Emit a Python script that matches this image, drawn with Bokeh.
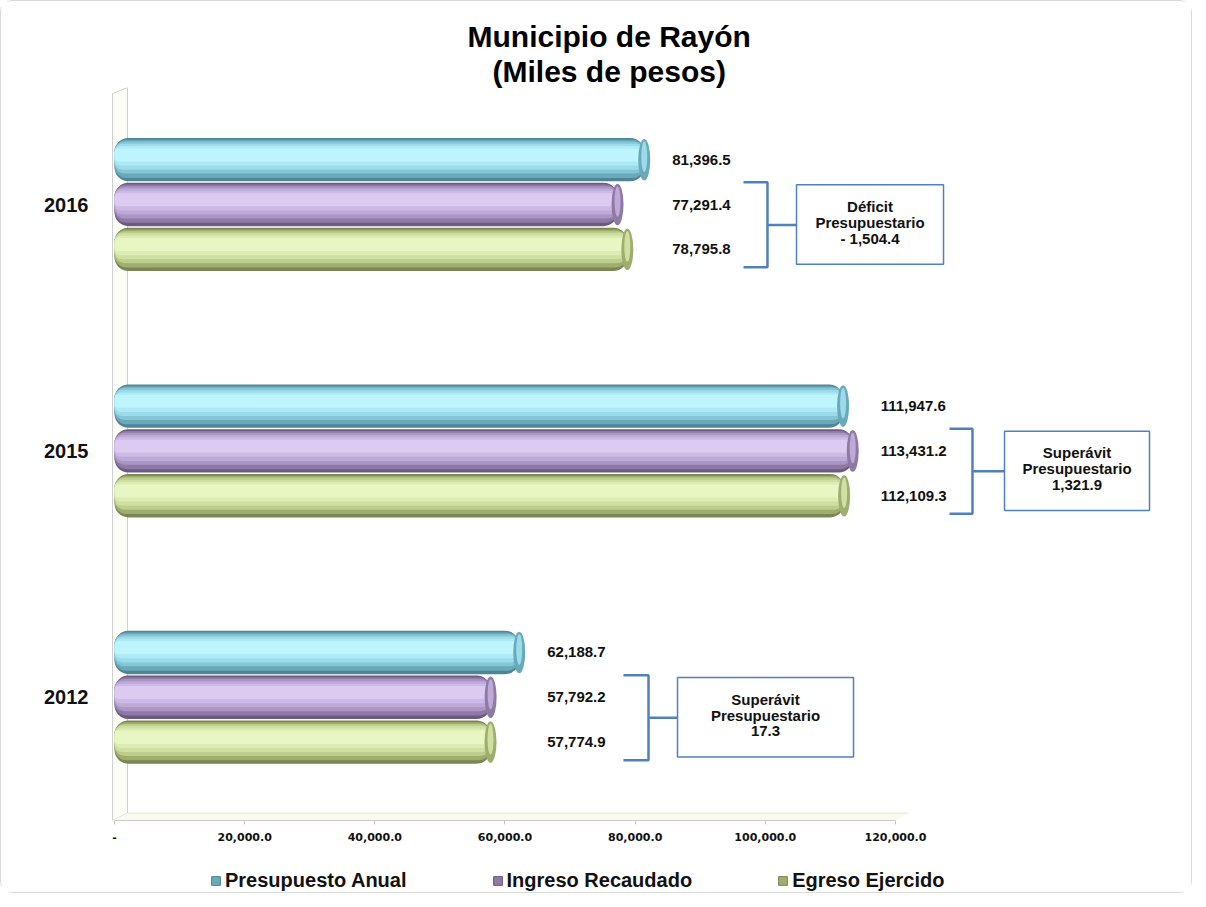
from bokeh.plotting import figure
from bokeh.layouts import column
from bokeh.models import (Range1d, FixedTicker, NumeralTickFormatter, Legend,
                          LegendItem, Title)
from bokeh.core.properties import value
from bokeh.embed import file_html
from bokeh.resources import INLINE

# ---------------- data ----------------
categories = ["2012", "2015", "2016"]
series_names = ["Presupuesto Anual", "Ingreso Recaudado", "Egreso Ejercido"]
presupuesto = [62188.7, 111947.6, 81396.5]
ingreso = [57792.2, 113431.2, 77291.4]
egreso = [57774.9, 112109.3, 78795.8]
balance_kind = ["Superávit", "Superávit", "Déficit"]
balance_value = ["17.3", "1,321.9", "- 1,504.4"]
x_ticks = [0, 20000, 40000, 60000, 80000, 100000, 120000]

# ---------------- layout / style (not data) ----------------
bracket_left = [78200, 128300, 96650]
bracket_mid = [82050, 131830, 100330]
box_left = [86510, 136750, 104790]
box_right = [113550, 159030, 127380]

series_values = [presupuesto, ingreso, egreso]
series_offsets = [0.182, 0.0, -0.182]
bar_h = 0.176
palettes = [
    ["#4f8595", "#6aa9ba", "#85c6d6", "#9bdbea", "#ade9f6", "#bdf4fd"],
    ["#6d5a80", "#8f7aa6", "#ab95c4", "#bea9d7", "#cdb9e5", "#dccaf0"],
    ["#7a8752", "#9eae6e", "#bccd8c", "#cfe0a2", "#dcecb2", "#e8f6c4"],
]
layers = [(1.0, 0.0), (0.88, 0.02), (0.74, 0.05), (0.6, 0.07), (0.45, 0.09), (0.3, 0.11)]

BLUE = "#4f81bd"
FONT = "Liberation Sans"

p = figure(width=1190, height=847, output_backend="svg", toolbar_location=None,
           x_range=Range1d(-1997, 164253), y_range=Range1d(0, 2.975),
           min_border_left=100, min_border_right=8, min_border_bottom=28,
           min_border_top=86, background_fill_color="white",
           border_fill_color="white", outline_line_color=None)
p.xgrid.visible = False
p.ygrid.visible = False

# 3D back wall and floor
p.patch(x=[-300, -300, 2000, 2000], y=[0.0, 2.95, 2.975, 0.03],
        fill_color="#fdfdf8", line_color="#cfcfcf", line_width=1)
p.patch(x=[-300, 2000, 122000, 120000], y=[0.0, 0.03, 0.03, 0.0],
        fill_color="#fbfaee", line_color=None)
p.line(x=[2000, 122000], y=[0.03, 0.03], line_color="#e6e6dc", line_width=1)

for s, vals in enumerate(series_values):
    ys = [i + 0.5 + series_offsets[s] for i in range(len(categories))]
    pal = palettes[s]
    for li, (frac, shift) in enumerate(layers):
        p.hbar(y=[y + shift * bar_h for y in ys], right=vals, left=0,
               height=bar_h * frac, fill_color=pal[li], line_color=None,
               border_radius=max(3, int(14 * frac)))
    # cylinder end caps
    p.ellipse(x=vals, y=ys, width=12, height=bar_h * 0.96, width_units="screen",
              fill_color=pal[1], line_color=None)
    p.ellipse(x=vals, y=[y + 0.012 for y in ys], width=6, height=bar_h * 0.7,
              width_units="screen", fill_color=pal[3], line_color=None)

# value labels, aligned per year
for i, cat in enumerate(categories):
    gmax = max(v[i] for v in series_values)
    for s, vals in enumerate(series_values):
        p.text(x=[gmax], y=[i + 0.5 + series_offsets[s]], text=[f"{vals[i]:,.1f}"],
               x_offset=28, text_align="left", text_baseline="middle",
               text_font=value(FONT), text_font_size="15px",
               text_font_style="bold", text_color="#111111")

# brackets and boxes
b_top, b_bot, b_mid = 0.09, -0.255, -0.083
box_top, box_bot = 0.08, -0.242
for i, cat in enumerate(categories):
    c = i + 0.5
    xs = [[bracket_left[i], bracket_mid[i], bracket_mid[i], bracket_left[i]],
          [bracket_mid[i], box_left[i]]]
    ys = [[c + b_top, c + b_top, c + b_bot, c + b_bot], [c + b_mid, c + b_mid]]
    p.multi_line(xs=xs, ys=ys, line_color=BLUE, line_width=2.5)
    p.quad(left=[box_left[i]], right=[box_right[i]], top=[c + box_top],
           bottom=[c + box_bot], fill_color="white", line_color=BLUE,
           line_width=1.5)
    cx = (box_left[i] + box_right[i]) / 2
    cy = c + (box_top + box_bot) / 2
    for t, off in zip([balance_kind[i], "Presupuestario", balance_value[i]], [-18, -2, 14]):
        p.text(x=[cx], y=[cy], text=[t], y_offset=off, text_align="center",
               text_baseline="middle", text_font=value(FONT), text_font_size="15px",
               text_font_style="bold", text_color="#111111")

# axes
xa = p.xaxis[0]
xa.ticker = FixedTicker(ticks=x_ticks)
xa.formatter = NumeralTickFormatter(format="0,0.0")
xa.major_label_overrides = {0: "-"}
xa.bounds = (0, 120000)
xa.axis_line_color = "#c8c8c8"
xa.major_tick_line_color = "#c8c8c8"
xa.major_tick_in = 0
xa.major_tick_out = 4
xa.minor_tick_line_color = None
xa.major_label_standoff = 8
xa.major_label_text_font = "DejaVu Sans"
xa.major_label_text_font_style = "bold"
xa.major_label_text_font_size = "11px"
xa.major_label_text_color = "#111111"

ya = p.yaxis[0]
ya.ticker = FixedTicker(ticks=[i + 0.5 for i in range(len(categories))])
ya.major_label_overrides = {i + 0.5: cat for i, cat in enumerate(categories)}
ya.axis_line_color = None
ya.major_tick_line_color = None
ya.minor_tick_line_color = None
ya.major_label_standoff = 7
ya.major_label_text_font = FONT
ya.major_label_text_font_style = "bold"
ya.major_label_text_font_size = "20px"
ya.major_label_text_color = "#111111"

# titles
t2 = Title(text="(Miles de pesos)", align="left", offset=391, text_font=FONT,
           text_font_size="30px", text_font_style="bold", text_color="#000000",
           standoff=0)
t1 = Title(text="Municipio de Rayón", align="left", offset=366, text_font=FONT,
           text_font_size="30px", text_font_style="bold", text_color="#000000",
           standoff=0)
p.add_layout(t2, "above")
p.add_layout(t1, "above")

# legend strip below the chart
pl = figure(width=1190, height=44, output_backend="svg", toolbar_location=None,
            x_range=Range1d(0, 1), y_range=Range1d(0, 1), min_border=0,
            x_axis_location=None, y_axis_location=None,
            outline_line_color=None, background_fill_color="white",
            border_fill_color="white")
pl.xgrid.visible = False
pl.ygrid.visible = False
key_renderers = [pl.hbar(y=[-5], left=[0], right=[1], height=0.5,
                         fill_color=palettes[s][1], line_color=palettes[s][0])
                 for s in range(len(series_names))]
legend = Legend(items=[LegendItem(label=n, renderers=[r]) for n, r in zip(series_names, key_renderers)],
                orientation="horizontal", location=(109, 0),
                label_text_font=FONT, label_text_font_size="20px",
                label_text_font_style="bold", label_text_color="#111111",
                glyph_width=11, glyph_height=11, label_standoff=4, spacing=85,
                padding=0, margin=0, border_line_color=None,
                background_fill_alpha=0)
pl.add_layout(legend)

layout = column(p, pl, spacing=0,
                styles={"border": "1px solid #d9d9d9", "border-radius": "12px"})
open("out.html", "w").write(file_html(layout, INLINE))
